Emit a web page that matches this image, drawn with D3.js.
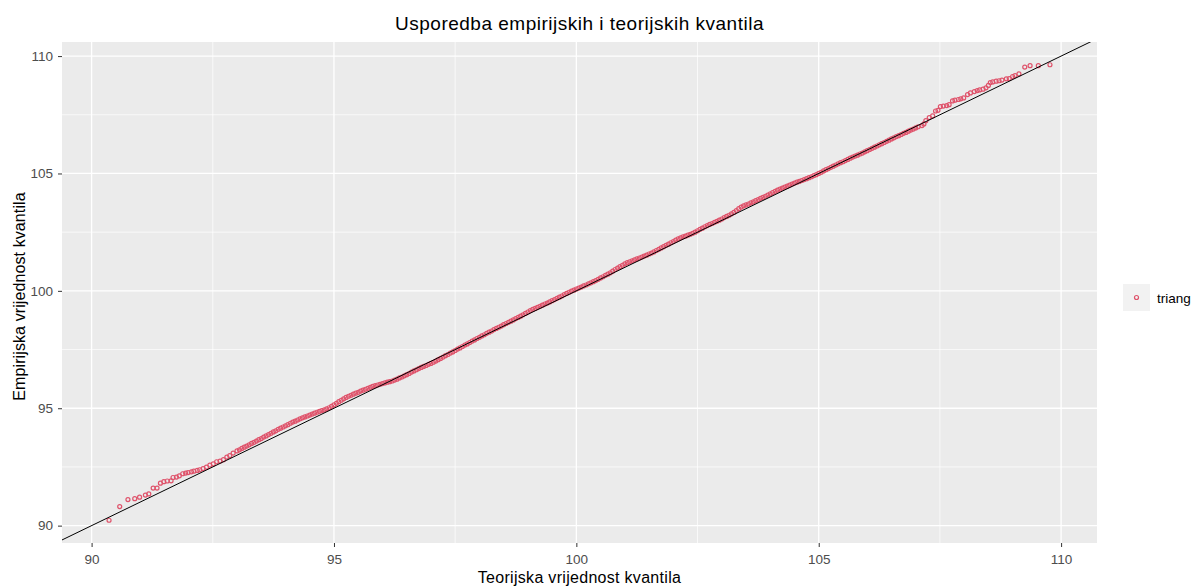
<!DOCTYPE html>
<html>
<head>
<meta charset="utf-8">
<script src="https://cdn.jsdelivr.net/npm/d3@7"></script>
<style>
  html, body { margin: 0; padding: 0; background: #ffffff; }
  svg { display: block; font-family: "Liberation Sans", Arial, sans-serif; }
</style>
</head>
<body>
<svg id="chart" width="1196" height="588"></svg>
<script>
const theoLow = [90.36, 90.58, 90.75, 90.89, 90.99, 91.11, 91.18, 91.27, 91.35, 91.42, 91.49, 91.56, 91.64, 91.68, 91.75, 91.81, 91.88, 91.94, 91.99, 92.06, 92.11, 92.18, 92.23, 92.30, 92.37, 92.44, 92.51, 92.58, 92.65, 92.72, 92.79, 92.85, 92.92];
const empLow  = [90.23, 90.81, 91.11, 91.15, 91.21, 91.30, 91.35, 91.60, 91.60, 91.81, 91.87, 91.90, 91.91, 92.05, 92.07, 92.12, 92.21, 92.24, 92.26, 92.29, 92.32, 92.35, 92.38, 92.43, 92.49, 92.58, 92.63, 92.72, 92.75, 92.81, 92.92, 92.98, 93.09];

const theoMid = [93.00, 93.05, 93.10, 93.15, 93.20, 93.25, 93.30, 93.35, 93.40, 93.45, 93.50, 93.55, 93.60, 93.65, 93.70, 93.75, 93.80, 93.85, 93.90, 93.95,
  94.00, 94.05, 94.10, 94.15, 94.20, 94.25, 94.30, 94.35, 94.40, 94.45, 94.50, 94.55, 94.60, 94.65, 94.70, 94.75, 94.80, 94.85, 94.90, 94.95,
  95.00, 95.05, 95.10, 95.15, 95.20, 95.25, 95.30, 95.35, 95.40, 95.45, 95.50, 95.55, 95.60, 95.65, 95.70, 95.75, 95.80, 95.85, 95.90, 95.95,
  96.00, 96.05, 96.10, 96.15, 96.20, 96.25, 96.30, 96.35, 96.40, 96.45, 96.50, 96.55, 96.60, 96.65, 96.70, 96.75, 96.80, 96.85, 96.90, 96.95,
  97.00, 97.05, 97.10, 97.15, 97.20, 97.25, 97.30, 97.35, 97.40, 97.45, 97.50, 97.55, 97.60, 97.65, 97.70, 97.75, 97.80, 97.85, 97.90, 97.95,
  98.00, 98.05, 98.10, 98.15, 98.20, 98.25, 98.30, 98.35, 98.40, 98.45, 98.50, 98.55, 98.60, 98.65, 98.70, 98.75, 98.80, 98.85, 98.90, 98.95,
  99.00, 99.05, 99.10, 99.15, 99.20, 99.25, 99.30, 99.35, 99.40, 99.45, 99.50, 99.55, 99.60, 99.65, 99.70, 99.75, 99.80, 99.85, 99.90, 99.95,
  100.00, 100.05, 100.10, 100.15, 100.20, 100.25, 100.30, 100.35, 100.40, 100.45, 100.50, 100.55, 100.60, 100.65, 100.70, 100.75, 100.80, 100.85, 100.90, 100.95,
  101.00, 101.05, 101.10, 101.15, 101.20, 101.25, 101.30, 101.35, 101.40, 101.45, 101.50, 101.55, 101.60, 101.65, 101.70, 101.75, 101.80, 101.85, 101.90, 101.95,
  102.00, 102.05, 102.10, 102.15, 102.20, 102.25, 102.30, 102.35, 102.40, 102.45, 102.50, 102.55, 102.60, 102.65, 102.70, 102.75, 102.80, 102.85, 102.90, 102.95,
  103.00, 103.05, 103.10, 103.15, 103.20, 103.25, 103.30, 103.35, 103.40, 103.45, 103.50, 103.55, 103.60, 103.65, 103.70, 103.75, 103.80, 103.85, 103.90, 103.95,
  104.00, 104.05, 104.10, 104.15, 104.20, 104.25, 104.30, 104.35, 104.40, 104.45, 104.50, 104.55, 104.60, 104.65, 104.70, 104.75, 104.80, 104.85, 104.90, 104.95,
  105.00, 105.05, 105.10, 105.15, 105.20, 105.25, 105.30, 105.35, 105.40, 105.45, 105.50, 105.55, 105.60, 105.65, 105.70, 105.75, 105.80, 105.85, 105.90, 105.95,
  106.00, 106.05, 106.10, 106.15, 106.20, 106.25, 106.30, 106.35, 106.40, 106.45, 106.50, 106.55, 106.60, 106.65, 106.70, 106.75, 106.80, 106.85, 106.90, 106.95,
  107.00, 107.05];
const empMid = [93.18, 93.23, 93.29, 93.34, 93.39, 93.44, 93.50, 93.55, 93.60, 93.66, 93.71, 93.77, 93.82, 93.88, 93.93, 93.99, 94.04, 94.10, 94.15, 94.20,
  94.25, 94.30, 94.36, 94.41, 94.45, 94.50, 94.55, 94.59, 94.63, 94.67, 94.71, 94.75, 94.79, 94.83, 94.87, 94.90, 94.93, 94.97, 95.02, 95.08,
  95.14, 95.21, 95.28, 95.34, 95.40, 95.46, 95.51, 95.55, 95.60, 95.64, 95.68, 95.73, 95.77, 95.81, 95.85, 95.89, 95.93, 95.96, 95.99, 96.02,
  96.05, 96.08, 96.11, 96.13, 96.16, 96.20, 96.24, 96.29, 96.33, 96.38, 96.43, 96.48, 96.54, 96.59, 96.64, 96.69, 96.74, 96.78, 96.82, 96.87,
  96.91, 96.96, 97.01, 97.07, 97.12, 97.18, 97.24, 97.29, 97.35, 97.40, 97.46, 97.52, 97.57, 97.63, 97.69, 97.74, 97.80, 97.86, 97.91, 97.97,
  98.02, 98.08, 98.13, 98.19, 98.24, 98.29, 98.35, 98.40, 98.45, 98.50, 98.56, 98.61, 98.66, 98.71, 98.76, 98.82, 98.87, 98.92, 98.98, 99.04,
  99.10, 99.16, 99.21, 99.25, 99.30, 99.34, 99.39, 99.44, 99.48, 99.53, 99.58, 99.63, 99.68, 99.73, 99.78, 99.84, 99.89, 99.94, 99.99, 100.03,
  100.08, 100.12, 100.16, 100.21, 100.25, 100.30, 100.34, 100.39, 100.44, 100.49, 100.55, 100.60, 100.66, 100.71, 100.77, 100.84, 100.91, 100.97, 101.03, 101.09,
  101.15, 101.20, 101.24, 101.28, 101.32, 101.36, 101.40, 101.44, 101.48, 101.52, 101.57, 101.61, 101.66, 101.72, 101.77, 101.83, 101.88, 101.94, 101.99, 102.05,
  102.10, 102.16, 102.21, 102.26, 102.30, 102.33, 102.37, 102.41, 102.45, 102.50, 102.56, 102.62, 102.67, 102.73, 102.78, 102.83, 102.87, 102.92, 102.96, 103.01,
  103.06, 103.12, 103.17, 103.22, 103.28, 103.34, 103.42, 103.50, 103.57, 103.62, 103.66, 103.70, 103.75, 103.79, 103.84, 103.89, 103.94, 103.98, 104.03, 104.08,
  104.13, 104.19, 104.24, 104.29, 104.33, 104.38, 104.42, 104.46, 104.50, 104.55, 104.59, 104.63, 104.66, 104.70, 104.74, 104.78, 104.82, 104.86, 104.91, 104.95,
  105.00, 105.05, 105.11, 105.16, 105.21, 105.26, 105.31, 105.36, 105.41, 105.46, 105.50, 105.55, 105.60, 105.65, 105.70, 105.74, 105.78, 105.83, 105.87, 105.92,
  105.97, 106.02, 106.07, 106.12, 106.17, 106.22, 106.27, 106.32, 106.37, 106.42, 106.47, 106.52, 106.57, 106.61, 106.66, 106.71, 106.75, 106.80, 106.85, 106.89,
  106.94, 106.99];

const theoHigh = [107.13, 107.17, 107.21, 107.28, 107.35, 107.41, 107.46, 107.51, 107.57, 107.64, 107.69, 107.76, 107.81, 107.88, 107.93, 107.99, 108.07, 108.13, 108.21, 108.27, 108.32, 108.39, 108.45, 108.50, 108.54, 108.59, 108.66, 108.72, 108.78, 108.87, 108.93, 109.00, 109.05, 109.13, 109.25, 109.36, 109.53, 109.77];
const empHigh  = [107.04, 107.11, 107.25, 107.38, 107.45, 107.66, 107.69, 107.85, 107.87, 107.89, 107.93, 108.09, 108.12, 108.15, 108.18, 108.22, 108.36, 108.43, 108.49, 108.53, 108.56, 108.59, 108.65, 108.75, 108.87, 108.90, 108.93, 108.95, 108.98, 109.03, 109.04, 109.13, 109.17, 109.24, 109.53, 109.59, 109.59, 109.63];

const xTicks = [90, 95, 100, 105, 110];
const yTicks = [90, 95, 100, 105, 110];
const xMinor = [92.5, 97.5, 102.5, 107.5];
const yMinor = [92.5, 97.5, 102.5, 107.5];
const seriesName = "triang";
const titleText = "Usporedba empirijskih i teorijskih kvantila";
const xTitle = "Teorijska vrijednost kvantila";
const yTitle = "Empirijska vrijednost kvantila";

// ---- build ----
const theo = theoLow.concat(theoMid, theoHigh);
const emp = empLow.concat(empMid, empHigh);
const points = theo.map((t, i) => ({ x: t, y: emp[i] }));

const panel = { left: 62, right: 1097, top: 42, bottom: 543 };
const pointColor = "#DF536B";
const FONT = "'Liberation Sans', Arial, sans-serif";

function expand(ext) {
  const d = (ext[1] - ext[0]) * 0.05;
  return [ext[0] - d, ext[1] + d];
}
const x = d3.scaleLinear().domain(expand(d3.extent(theo))).range([panel.left, panel.right]);
const y = d3.scaleLinear().domain(expand(d3.extent(emp))).range([panel.bottom, panel.top]);

const svg = d3.select("#chart");

svg.append("defs").append("clipPath").attr("id", "clip")
  .append("rect")
  .attr("x", panel.left).attr("y", panel.top)
  .attr("width", panel.right - panel.left).attr("height", panel.bottom - panel.top);

// panel background
svg.append("rect")
  .attr("x", panel.left).attr("y", panel.top)
  .attr("width", panel.right - panel.left).attr("height", panel.bottom - panel.top)
  .attr("fill", "#EBEBEB");

const grid = svg.append("g");
grid.selectAll(".vminor").data(xMinor).join("line")
  .attr("x1", d => x(d)).attr("x2", d => x(d))
  .attr("y1", panel.top).attr("y2", panel.bottom)
  .attr("stroke", "#ffffff").attr("stroke-width", 0.7);
grid.selectAll(".hminor").data(yMinor).join("line")
  .attr("x1", panel.left).attr("x2", panel.right)
  .attr("y1", d => y(d)).attr("y2", d => y(d))
  .attr("stroke", "#ffffff").attr("stroke-width", 0.7);
grid.selectAll(".vmajor").data(xTicks).join("line")
  .attr("x1", d => x(d)).attr("x2", d => x(d))
  .attr("y1", panel.top).attr("y2", panel.bottom)
  .attr("stroke", "#ffffff").attr("stroke-width", 1.3);
grid.selectAll(".hmajor").data(yTicks).join("line")
  .attr("x1", panel.left).attr("x2", panel.right)
  .attr("y1", d => y(d)).attr("y2", d => y(d))
  .attr("stroke", "#ffffff").attr("stroke-width", 1.3);

// points
svg.append("g").attr("clip-path", "url(#clip)")
  .selectAll("circle").data(points).join("circle")
  .attr("cx", d => x(d.x)).attr("cy", d => y(d.y))
  .attr("r", 2)
  .attr("fill", "none")
  .attr("stroke", pointColor)
  .attr("stroke-width", 1.2);

// reference line y = x
const xd = x.domain();
svg.append("line").attr("clip-path", "url(#clip)")
  .attr("x1", x(xd[0])).attr("y1", y(xd[0]))
  .attr("x2", x(xd[1])).attr("y2", y(xd[1]))
  .attr("stroke", "#000000").attr("stroke-width", 1);

// axes
const xAxis = svg.append("g")
  .attr("transform", `translate(0,${panel.bottom})`)
  .call(d3.axisBottom(x).tickValues(xTicks).tickSize(4).tickPadding(7).tickFormat(d3.format("d")));
const yAxis = svg.append("g")
  .attr("transform", `translate(${panel.left},0)`)
  .call(d3.axisLeft(y).tickValues(yTicks).tickSize(4).tickPadding(5).tickFormat(d3.format("d")));
[xAxis, yAxis].forEach(g => {
  g.select(".domain").remove();
  g.selectAll(".tick line").attr("stroke", "#333333").attr("stroke-width", 1);
  g.selectAll(".tick text").attr("fill", "#4D4D4D")
    .style("font-size", "13.5px").style("font-family", FONT);
});

// titles
svg.append("text")
  .attr("x", (panel.left + panel.right) / 2).attr("y", 30)
  .attr("text-anchor", "middle")
  .style("font-size", "19px").style("letter-spacing", "0.5px").attr("fill", "#000")
  .text(titleText);
svg.append("text")
  .attr("x", (panel.left + panel.right) / 2).attr("y", 583)
  .attr("text-anchor", "middle")
  .style("font-size", "16px").style("letter-spacing", "0.3px").attr("fill", "#000")
  .text(xTitle);
svg.append("text")
  .attr("transform", `translate(25,${(panel.top + panel.bottom) / 2 + 4}) rotate(-90)`)
  .attr("text-anchor", "middle")
  .style("font-size", "16px").style("letter-spacing", "0.1px").attr("fill", "#000")
  .text(yTitle);

// legend
const legend = svg.append("g").attr("transform", "translate(1123,284)");
legend.append("rect")
  .attr("x", 0).attr("y", 0).attr("width", 27).attr("height", 27)
  .attr("fill", "#F2F2F2");
legend.selectAll("circle").data([seriesName]).join("circle")
  .attr("cx", 13.5).attr("cy", 13.5).attr("r", 2)
  .attr("fill", "none").attr("stroke", pointColor).attr("stroke-width", 1.2);
legend.selectAll("text").data([seriesName]).join("text")
  .attr("x", 34).attr("y", 18.5)
  .style("font-size", "13.5px").attr("fill", "#000")
  .text(d => d);
</script>
</body>
</html>
